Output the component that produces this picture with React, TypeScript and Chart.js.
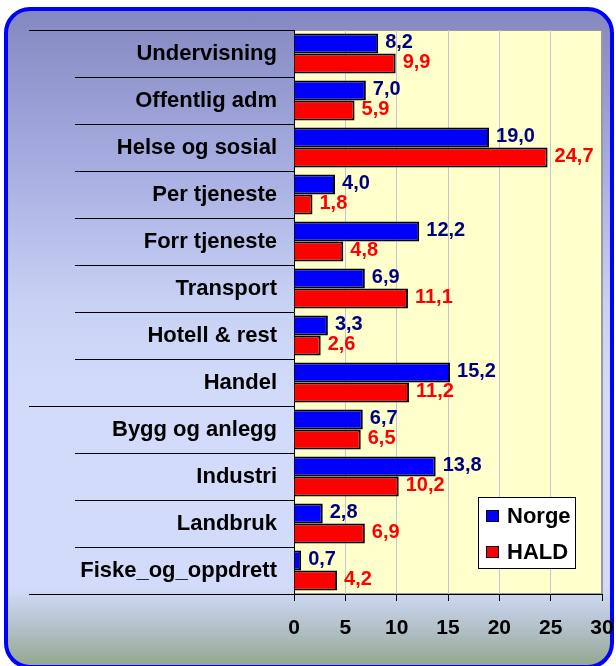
import React, { useEffect, useRef } from 'react';
import { Chart, registerables } from 'chart.js';

Chart.register(...registerables);

const categories = [
  'Undervisning',
  'Offentlig adm',
  'Helse og sosial',
  'Per tjeneste',
  'Forr tjeneste',
  'Transport',
  'Hotell & rest',
  'Handel',
  'Bygg og anlegg',
  'Industri',
  'Landbruk',
  'Fiske_og_oppdrett',
];
const norge = [8.2, 7.0, 19.0, 4.0, 12.2, 6.9, 3.3, 15.2, 6.7, 13.8, 2.8, 0.7];
const hald = [9.9, 5.9, 24.7, 1.8, 4.8, 11.1, 2.6, 11.2, 6.5, 10.2, 6.9, 4.2];
const seriesNames = ['Norge', 'HALD'];
const xTicks = [0, 5, 10, 15, 20, 25, 30];
const longSeparators = [0, 8, 12];

const FONT = '"Liberation Sans", Arial, sans-serif';
const barColors = ['#0000ff', '#ff0000'];
const valueColors = ['#000080', '#ff0000'];

const fmt = (v: number) => v.toFixed(1).replace('.', ',');

const plotBg = {
  id: 'plotBg',
  beforeDraw(chart: any) {
    const { ctx, chartArea: a } = chart;
    ctx.save();
    ctx.fillStyle = '#ffffcc';
    ctx.fillRect(a.left, a.top, a.right - a.left, a.bottom - a.top);
    ctx.strokeStyle = '#9a9a9a';
    ctx.lineWidth = 1;
    ctx.strokeRect(a.left + 0.5, a.top + 0.5, a.right - a.left - 1, a.bottom - a.top - 1);
    ctx.restore();
  },
};

const separators = {
  id: 'separators',
  afterDraw(chart: any) {
    const { ctx, chartArea: a } = chart;
    const y = chart.scales.y;
    const half = (y.getPixelForValue(1) - y.getPixelForValue(0)) / 2;
    ctx.save();
    ctx.strokeStyle = '#000';
    ctx.lineWidth = 1;
    for (let i = 0; i <= categories.length; i++) {
      const py = Math.round(y.getPixelForValue(i) - half) + 0.5;
      const x0 = longSeparators.includes(i) ? a.left - 265 : a.left - 219;
      ctx.beginPath();
      ctx.moveTo(x0, py);
      ctx.lineTo(a.left, py);
      ctx.stroke();
    }
    ctx.restore();
  },
};

const valueLabels = {
  id: 'valueLabels',
  afterDatasetsDraw(chart: any) {
    const { ctx } = chart;
    ctx.save();
    ctx.font = `bold 20px ${FONT}`;
    ctx.textAlign = 'left';
    ctx.textBaseline = 'middle';
    chart.data.datasets.forEach((ds: any, di: number) => {
      const meta = chart.getDatasetMeta(di);
      meta.data.forEach((bar: any, i: number) => {
        ctx.fillStyle = valueColors[di];
        ctx.fillText(fmt(ds.data[i]), bar.x + 7, bar.y - 1);
      });
    });
    ctx.restore();
  },
};

const boxLegend = {
  id: 'boxLegend',
  afterDraw(chart: any) {
    const { ctx, chartArea: a } = chart;
    ctx.save();
    ctx.font = `bold 22px ${FONT}`;
    const names = chart.data.datasets.map((d: any) => d.label);
    const textW = Math.max(...names.map((n: string) => ctx.measureText(n).width));
    const boxW = Math.round(8 + 13 + 8 + textW + 5);
    const boxH = 72;
    const right = a.right - 26;
    const bottom = a.bottom - 25;
    const left = right - boxW;
    const top = bottom - boxH;
    ctx.fillStyle = '#ffffff';
    ctx.fillRect(left, top, boxW, boxH);
    ctx.strokeStyle = '#000';
    ctx.lineWidth = 1;
    ctx.strokeRect(left + 0.5, top + 0.5, boxW - 1, boxH - 1);
    names.forEach((n: string, i: number) => {
      const cy = top + 19 + i * 36;
      ctx.fillStyle = chart.data.datasets[i].backgroundColor;
      ctx.fillRect(left + 8, cy - 6, 13, 12);
      ctx.strokeRect(left + 8.5, cy - 5.5, 12, 11);
      ctx.fillStyle = '#000';
      ctx.textAlign = 'left';
      ctx.textBaseline = 'middle';
      ctx.fillText(n, left + 29, cy + 1);
    });
    ctx.restore();
  },
};

export default function App() {
  const ref = useRef<HTMLCanvasElement>(null);

  useEffect(() => {
    if (!ref.current) return;
    const chart = new Chart(ref.current, {
      type: 'bar',
      data: {
        labels: categories,
        datasets: [
          {
            label: seriesNames[0],
            data: norge,
            backgroundColor: barColors[0],
            borderColor: '#000',
            borderWidth: 2,
            barPercentage: 1,
            categoryPercentage: 0.85,
          },
          {
            label: seriesNames[1],
            data: hald,
            backgroundColor: barColors[1],
            borderColor: '#000',
            borderWidth: 2,
            barPercentage: 1,
            categoryPercentage: 0.85,
          },
        ],
      },
      options: {
        indexAxis: 'y',
        animation: false,
        responsive: false,
        maintainAspectRatio: false,
        layout: { padding: { top: 30, right: 14, bottom: 0, left: 0 } },
        plugins: { legend: { display: false }, tooltip: { enabled: false } },
        scales: {
          x: {
            type: 'linear',
            min: xTicks[0],
            max: xTicks[xTicks.length - 1],
            ticks: {
              stepSize: xTicks[1] - xTicks[0],
              font: { family: FONT, size: 21, weight: 'bold' },
              color: '#000',
              padding: 15,
            },
            grid: {
              color: (c: any) =>
                c.tick && c.tick.value === xTicks[xTicks.length - 1] ? '#9a9a9a' : '#c4c4d4',
              tickColor: '#000',
              tickLength: 7,
              drawTicks: true,
            },
            border: { display: true, color: '#000', width: 1 },
            afterFit: (s: any) => {
              s.height = 72;
              s.paddingLeft = 0;
              s.paddingRight = 0;
            },
          },
          y: {
            type: 'category',
            ticks: {
              font: { family: FONT, size: 22, weight: 'bold' },
              color: '#000',
              padding: 17,
            },
            grid: { display: false, drawTicks: false },
            border: { display: true, color: '#000', width: 1 },
            afterFit: (s: any) => {
              s.width = 294;
              s.paddingTop = 0;
              s.paddingBottom = 0;
            },
          },
        },
      },
      plugins: [plotBg, separators, valueLabels, boxLegend],
    } as any);
    return () => chart.destroy();
  }, []);

  return (
    <div style={{ position: 'fixed', left: 0, top: 0, width: 616, height: 666, overflow: 'hidden', background: '#fff' }}>
      <div
        style={{
          position: 'absolute',
          left: 4,
          top: 7,
          width: 610,
          height: 662,
          boxSizing: 'border-box',
          border: '4px solid #0000ff',
          borderRadius: 26,
          background:
            'linear-gradient(to bottom, #8488c0 0%, #a8b0e2 25%, #c8d2f4 45%, #d2dcfa 60%, #d2dcfa 88%, #b4c2cc 94%, #94a890 100%)',
        }}
      />
      <canvas ref={ref} width={616} height={666} style={{ position: 'absolute', left: 0, top: 0 }} />
    </div>
  );
}
